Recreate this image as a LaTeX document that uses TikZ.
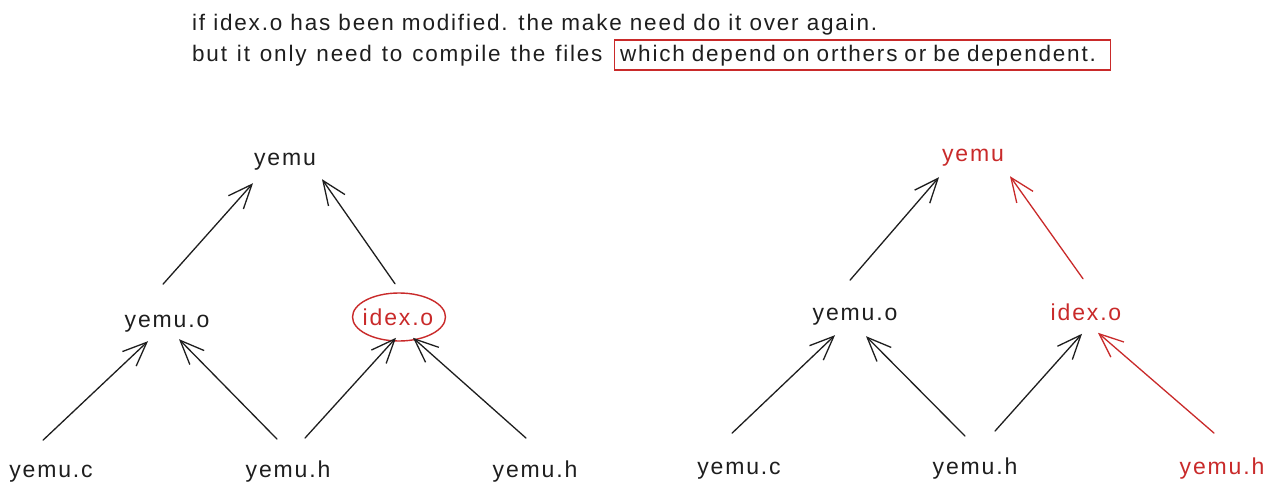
\documentclass[tikz,border=0pt]{standalone}
\usepackage{fontspec}
\setmainfont{Liberation Sans}[LetterSpace=8]
\usetikzlibrary{arrows.meta,calc}
\definecolor{ink}{HTML}{1E1E1E}
\definecolor{exred}{HTML}{C92A2A}
\newcommand\mytopfont{\fontsize{22.5}{26}\selectfont\spaceskip=0.36em plus 0.1em\relax}
\newcommand\mywidefont{\fontsize{22.5}{26}\selectfont\spaceskip=0.44em plus 0.1em\relax}
\newcommand\mytightfont{\fontsize{22.5}{26}\selectfont\spaceskip=0.31em plus 0.1em\relax}
\begin{document}
\begin{tikzpicture}[x=1pt,y=-1pt,
  lbl/.style={font=\fontsize{23}{26}\selectfont, text=ink, inner sep=0pt, anchor=base},
  redlbl/.style={lbl, text=exred},
  arr/.style={-{Straight Barb[length=24pt,width=20pt,line width=1.3pt]}, line width=1.3pt, draw=ink, line cap=round, line join=round},
  redarr/.style={arr, draw=exred},
  toptxt/.style={font=\mytopfont, text=ink, inner sep=0pt, anchor=base west},
  redbox/.style={draw=exred, line width=1.3pt, inner sep=0pt, anchor=west, minimum width=496pt, minimum height=30pt}]
\useasboundingbox[fill=white] (0,0) rectangle (1275,498);

% top text
\node[toptxt] (t1) at (192,30) {if idex.o has been modified. the make need do it over again.};
\node[toptxt, font=\mywidefont] (t2) at (192,61) {but it only need to compile the files};
\node[redbox] (bx) at (614,55) {};
\node[toptxt, font=\mytightfont] (t3) at ($(bx.west)+(6,6)$) {which depend on orthers or be dependent.};

% left tree
\node[lbl] (ly) at (285,165) {yemu};
\node[lbl] (lyo) at (167,327) {yemu.o};
\node[redlbl] (lid) at (398,325) {idex.o};
\node[lbl] (lyc) at (51,477) {yemu.c};
\node[lbl] (lyh) at (288,477) {yemu.h};
\node[lbl] (lyh2) at (535,477) {yemu.h};
\draw[exred, line width=1.4pt] ($(lid.base)+(1,-8)$) ellipse [x radius=46.5, y radius=24];

\draw[arr] ($(lyo)+(-4,-39)$) -- ($(ly)+(-32,22)$);
\draw[arr] ($(lid)+(-3,-33)$) -- ($(ly)+(37,18)$);
\draw[arr] ($(lyc)+(-8,-33)$) -- ($(lyo)+(-19,18)$);
\draw[arr] ($(lyh)+(-11,-32)$) -- ($(lyo)+(12,16)$);
\draw[arr] ($(lyh)+(17,-33)$) -- ($(lid)+(-2,21)$);
\draw[arr] ($(lyh2)+(-9,-33)$) -- ($(lid)+(15,21)$);

% right tree
\node[redlbl] (ry) at (973,161) {yemu};
\node[lbl] (ryo) at (855,320) {yemu.o};
\node[redlbl] (rid) at (1086,320) {idex.o};
\node[lbl] (ryc) at (739,474) {yemu.c};
\node[lbl] (ryh) at (975,474) {yemu.h};
\node[redlbl] (ryh2) at (1222,474) {yemu.h};

\draw[arr] ($(ryo)+(-5,-36)$) -- ($(ry)+(-34,20)$);
\draw[redarr] ($(rid)+(-3,-33)$) -- ($(ry)+(37,19)$);
\draw[arr] ($(ryc)+(-7,-37)$) -- ($(ryo)+(-20,19)$);
\draw[arr] ($(ryh)+(-10,-32)$) -- ($(ryo)+(11,20)$);
\draw[arr] ($(ryh)+(20,-37)$) -- ($(rid)+(-4,22)$);
\draw[redarr] ($(ryh2)+(-8,-35)$) -- ($(rid)+(12,21)$);
\end{tikzpicture}
\end{document}
